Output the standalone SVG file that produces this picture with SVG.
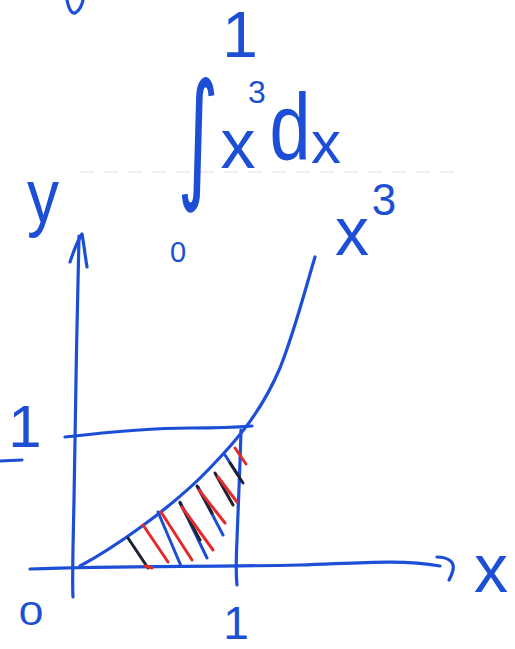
<svg xmlns="http://www.w3.org/2000/svg" width="515" height="649" viewBox="0 0 515 649">
<style>
.b{fill:none;stroke:#1d4fd6;stroke-width:3.2;stroke-linecap:round;stroke-linejoin:round}
.h{fill:none;stroke-width:3;stroke-linecap:round}
.r{stroke:#e32b2b}
.k{stroke:#1e2230}
.u{stroke:#1d4fd6}
.t{fill:#1d4fd6;font-family:"Liberation Sans",Arial,sans-serif;text-anchor:middle}
</style>
<rect width="515" height="649" fill="#ffffff"/>
<line x1="80" y1="172" x2="460" y2="172" stroke="#ececec" stroke-width="1.5" stroke-dasharray="14 10"/>
<g id="fragment"><path class="b" d="M67,0 C69,10 72,14 75,13 C79,11 82,5 83,0"/></g>
<g id="integral">
<text class="t" x="240" y="57" font-size="64">1</text>
<text class="t" transform="translate(198,183) scale(1,1.75)" font-size="80" style="font-family:'DejaVu Sans',sans-serif">∫</text>
<text class="t" x="257" y="103" font-size="32">3</text>
<text class="t" x="238" y="168" font-size="70">x</text>
<text class="t" transform="translate(290,160) scale(0.9,1.15)" font-size="82">d</text>
<text class="t" x="326" y="163" font-size="60">x</text>
<text class="t" x="178" y="262" font-size="29">0</text>
</g>
<g id="axes">
<path class="b" d="M79,236 C77,320 75,420 74,500 C73,550 72,580 73,597"/>
<path class="b" d="M70,262 C74,250 78,240 82,234 C84,245 85,255 87,267"/>
<path class="b" d="M30,569 C120,566 200,567 300,565 C360,563 400,559 440,566"/>
<path class="b" d="M437,557 C448,557 455,562 453,570 C452,574 451,577 449,580"/>
<path class="b" d="M0,461 L22,460"/>
<text class="t" transform="translate(43,222) scale(1,1.2)" font-size="64">y</text>
<text class="t" x="491" y="592" font-size="68">x</text>
<text class="t" x="25" y="447" font-size="60">1</text>
<text class="t" transform="translate(31,625) scale(1.3,1)" font-size="34">0</text>
<text class="t" x="236" y="639" font-size="46">1</text>
</g>
<g id="guides">
<path class="b" d="M65,437 C100,433 150,428 190,428 C220,428 240,427 252,426"/>
<path class="b" d="M241,430 C240,470 238,510 237,540 C236,560 236,575 237,585"/>
</g>
<g id="curve">
<path class="b" d="M80,566 C110,550 170,510 210,468 C240,437 262,410 280,368 C295,330 305,290 315,257"/>
<text class="t" x="352" y="255" font-size="68">x</text>
<text class="t" x="384" y="215" font-size="44">3</text>
</g>
<g id="hatching">
<path class="h k" d="M128,538 L148,568"/>
<path class="h r" d="M145,566 L152,568"/>
<path class="h r" d="M143,525 L168,562"/>
<path class="h u" d="M158,512 L181,566"/>
<path class="h r" d="M161,512 L192,560"/>
<path class="h u" d="M180,502 L207,558"/>
<path class="h k" d="M180,503 L200,540"/>
<path class="h r" d="M182,507 L213,550"/>
<path class="h u" d="M198,487 L223,535"/>
<path class="h k" d="M197,486 L212,513"/>
<path class="h r" d="M199,490 L225,523"/>
<path class="h k" d="M215,473 L233,505"/>
<path class="h r" d="M218,477 L237,502"/>
<path class="h u" d="M225,455 L238,475"/>
<path class="h k" d="M230,463 L243,483"/>
<path class="h r" d="M235,448 L246,464"/>
</g>
</svg>
